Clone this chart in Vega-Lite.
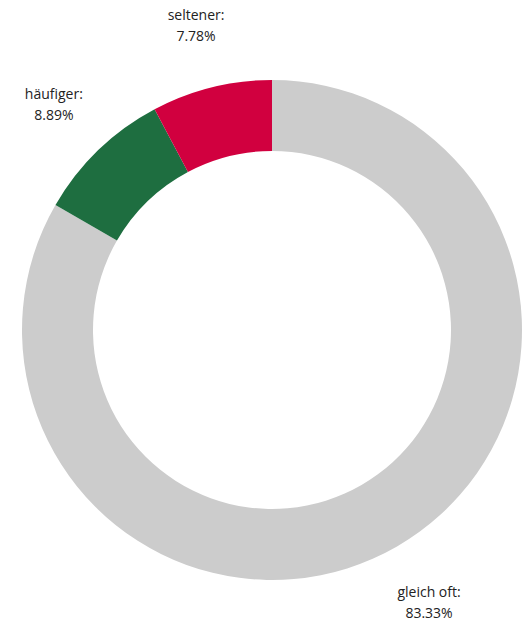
{
  "$schema": "https://vega.github.io/schema/vega-lite/v6.json",
  "autosize": "none",
  "padding": 0,
  "width": 544,
  "height": 660,
  "background": "white",
  "view": {"stroke": null},
  "data": {"values": [
    {"kategorie": "gleich oft", "wert": 83.33, "o": 1, "label": "gleich oft:\n83.33%"},
    {"kategorie": "häufiger", "wert": 8.89, "o": 2, "label": "häufiger:\n8.89%"},
    {"kategorie": "seltener", "wert": 7.78, "o": 3, "label": "seltener:\n7.78%"}
  ]},
  "encoding": {
    "theta": {"field": "wert", "type": "quantitative", "stack": true},
    "order": {"field": "o", "type": "quantitative"},
    "color": {"field": "kategorie", "type": "nominal", "legend": null,
      "scale": {"domain": ["gleich oft", "häufiger", "seltener"], "range": ["#cccccc", "#1e6e40", "#d1003f"]}}
  },
  "layer": [
    {"mark": {"type": "arc", "outerRadius": 250, "innerRadius": 179}},
    {"mark": {"type": "text", "radius": 314, "dy": -9, "font": "Open Sans", "fontSize": 14, "lineBreak": "\n", "lineHeight": 21, "baseline": "middle", "align": "center", "color": "#222222"},
     "encoding": {"text": {"field": "label"}, "color": {"value": "#222222"}}}
  ]
}
